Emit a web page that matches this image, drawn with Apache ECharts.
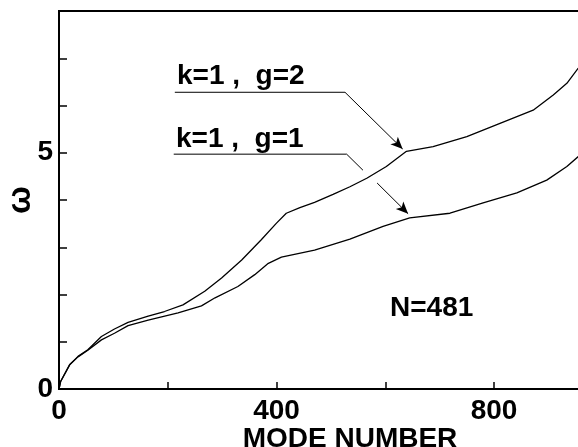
<!DOCTYPE html>
<html>
<head>
<meta charset="utf-8">
<script src="https://cdn.jsdelivr.net/npm/echarts@6/dist/echarts.min.js"></script>
<style>
  html, body { margin: 0; padding: 0; background: #fff; }
  #main { width: 578px; height: 447px; }
</style>
</head>
<body>
<div id="main"></div>
<script>
// mode number vs frequency
var curveG2 = [
    [0, 0], [3, 0.16], [20, 0.52], [35, 0.69], [53, 0.83], [78, 1.11], [102, 1.27],
    [127, 1.41], [164, 1.54], [194, 1.64], [228, 1.78], [268, 2.07], [299, 2.35],
    [336, 2.73], [372, 3.16], [400, 3.51], [418, 3.72], [443, 3.84], [470, 3.95],
    [504, 4.12], [535, 4.28], [566, 4.46], [602, 4.71], [639, 5.03], [688, 5.13],
    [750, 5.34], [811, 5.62], [872, 5.9], [909, 6.22], [934, 6.47], [955, 6.79]
];
var curveG1 = [
    [0, 0], [3, 0.16], [20, 0.52], [35, 0.68], [53, 0.82], [78, 1.04], [102, 1.18],
    [127, 1.34], [164, 1.46], [219, 1.61], [262, 1.76], [287, 1.93], [329, 2.17],
    [360, 2.42], [385, 2.66], [409, 2.79], [470, 2.94], [535, 3.17], [596, 3.44],
    [645, 3.62], [719, 3.72], [780, 3.94], [842, 4.15], [897, 4.42], [934, 4.71],
    [955, 4.92]
];
var xLabels = [0, 400, 800];
var yLabels = [0, 5];

// leader lines of the two labels (data coords)
var underG2 = [[213, 6.28], [526, 6.28]];
var arrowG2 = [[526, 6.28], [632, 5.08]];
var underG1 = [[211, 4.97], [529, 4.97], [559, 4.63]];
var arrowG1 = [[585, 4.36], [642, 3.71]];

var font = 'Liberation Sans';
var myChart = echarts.init(document.getElementById('main'));
myChart.setOption({
    animation: false,
    backgroundColor: '#fff',
    grid: {
        left: 59, top: 11, right: -3, bottom: 58,
        outerBoundsMode: 'none',
        show: true, borderColor: '#000', borderWidth: 2
    },
    xAxis: {
        type: 'value', min: 0, max: 960, interval: 200,
        axisLine: { lineStyle: { color: '#000', width: 2 } },
        axisTick: { inside: true, length: 7, lineStyle: { color: '#000', width: 1.5 } },
        splitLine: { show: false },
        axisLabel: {
            margin: 8, fontSize: 28, fontWeight: 'bold', color: '#000', fontFamily: font,
            showMaxLabel: false, alignMinLabel: 'center',
            formatter: function (v) { return xLabels.indexOf(v) >= 0 ? String(v) : ''; }
        },
        name: 'MODE NUMBER', nameLocation: 'middle', nameGap: 36, nameMoveOverlap: false,
        nameTextStyle: { fontSize: 28, fontWeight: 'bold', color: '#000', fontFamily: font, padding: [0, 0, 0, 60] }
    },
    yAxis: {
        type: 'value', min: 0, max: 8, interval: 1,
        axisLine: { lineStyle: { color: '#000', width: 2 } },
        axisTick: { inside: true, length: 8, lineStyle: { color: '#000', width: 1.5 } },
        splitLine: { show: false },
        axisLabel: {
            margin: 6, fontSize: 28, fontWeight: 'bold', color: '#000', fontFamily: font,
            padding: [5, 0, 0, 0], verticalAlignMinLabel: 'middle',
            formatter: function (v) { return yLabels.indexOf(v) >= 0 ? String(v) : ''; }
        },
        name: 'ω', nameLocation: 'middle', nameGap: 22, nameRotate: 90, nameMoveOverlap: false,
        nameTextStyle: { fontSize: 33, fontWeight: 'bold', color: '#000', fontFamily: font }
    },
    graphic: [
        { type: 'text', left: 177, top: 62, style: { text: 'k=1 ,  g=2', fontSize: 28, fontWeight: 'bold', fontFamily: font, fill: '#000' } },
        { type: 'text', left: 176, top: 125, style: { text: 'k=1 ,  g=1', fontSize: 28, fontWeight: 'bold', fontFamily: font, fill: '#000' } },
        { type: 'text', left: 390, top: 294, style: { text: 'N=481', fontSize: 28, fontWeight: 'bold', fontFamily: font, fill: '#000' } }
    ],
    series: [
        {
            name: 'k=1, g=2', type: 'line', data: curveG2, symbol: 'none',
            lineStyle: { color: '#000', width: 1.3 },
            markLine: {
                silent: true, symbol: ['none', 'arrow'], symbolSize: [8, 12],
                label: { show: false },
                lineStyle: { color: '#000', width: 1, type: 'solid' },
                data: [
                    [{ coord: arrowG2[0] }, { coord: arrowG2[1] }],
                    [{ coord: arrowG1[0] }, { coord: arrowG1[1] }]
                ]
            }
        },
        {
            name: 'k=1, g=1', type: 'line', data: curveG1, symbol: 'none',
            lineStyle: { color: '#000', width: 1.3 }
        },
        {
            type: 'lines', coordinateSystem: 'cartesian2d', polyline: true,
            symbol: 'none',
            lineStyle: { color: '#000', width: 1, opacity: 1 },
            data: [{ coords: underG2 }, { coords: underG1 }]
        }
    ]
});
</script>
</body>
</html>
